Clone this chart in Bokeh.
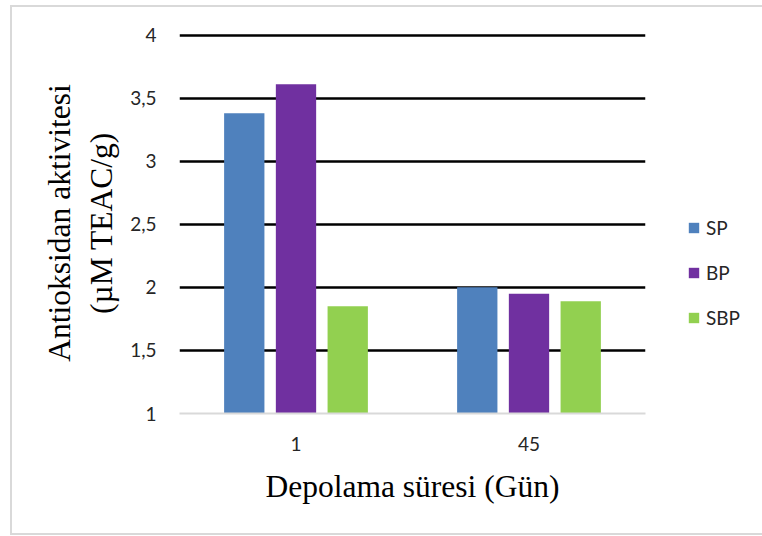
from bokeh.plotting import figure
from bokeh.models import Range1d, FactorRange, Legend, LegendItem, FixedTicker, ColumnDataSource
from bokeh.transform import dodge
from bokeh.embed import file_html
from bokeh.resources import INLINE

days = ["1", "45"]
series = ["SP", "BP", "SBP"]
sp = [3.38, 2.00]
bp = [3.61, 1.95]
sbp = [1.85, 1.89]
colors = ["#4F81BD", "#7030A0", "#92D050"]
y_ticks = [1, 1.5, 2, 2.5, 3, 3.5, 4]
y_labels = ["1", "1,5", "2", "2,5", "3", "3,5", "4"]
x_title = "Depolama süresi (Gün)"
y_title = "Antioksidan aktivitesi\n(µM TEAC/g)"

source = ColumnDataSource(dict(days=days, SP=sp, BP=bp, SBP=sbp))

p = figure(x_range=FactorRange(factors=days, range_padding=0),
           y_range=Range1d(1, 4.02),
           frame_width=466, frame_height=381,
           min_border_left=167, min_border_right=109,
           min_border_top=25, min_border_bottom=120,
           output_backend="svg", toolbar_location=None)
p.styles = {"border": "2px solid #d9d9d9", "margin": "5px 0 0 10px"}
p.outline_line_color = None
p.background_fill_color = "white"
p.border_fill_color = "white"

offsets = [-0.222, 0.0, 0.222]
items = []
for name, off, col in zip(series, offsets, colors):
    r = p.vbar(x=dodge("days", off, range=p.x_range), top=name, bottom=1,
               width=0.173, source=source, fill_color=col, line_color=None)
    items.append(LegendItem(label=name, renderers=[r]))

# grid
p.xgrid.visible = False
p.ygrid.ticker = FixedTicker(ticks=y_ticks[1:])
p.ygrid.grid_line_color = "black"
p.ygrid.grid_line_width = 2.5

# y axis
p.yaxis.ticker = FixedTicker(ticks=y_ticks)
p.yaxis.major_label_overrides = {t: l for t, l in zip(y_ticks, y_labels)}
p.yaxis.axis_line_color = None
p.yaxis.major_tick_line_color = None
p.yaxis.minor_tick_line_color = None
p.yaxis.major_tick_out = 0
p.yaxis.major_label_standoff = 23
p.yaxis.major_label_text_font = "Lato"
p.yaxis.major_label_text_font_size = "19px"
p.yaxis.major_label_text_color = "#262626"
p.yaxis.axis_label = y_title
p.yaxis.axis_label_text_font = "Liberation Serif"
p.yaxis.axis_label_text_font_size = "31.5px"
p.yaxis.axis_label_text_font_style = "normal"
p.yaxis.axis_label_text_color = "black"
p.yaxis.axis_label_standoff = 8

# x axis
p.xaxis.axis_line_color = "#d9d9d9"
p.xaxis.axis_line_width = 2
p.xaxis.major_tick_line_color = None
p.xaxis.major_tick_out = 0
p.xaxis.major_label_standoff = 23
p.xaxis.major_label_text_font = "Lato"
p.xaxis.major_label_text_font_size = "19px"
p.xaxis.major_label_text_color = "#262626"
p.xaxis.axis_label = x_title
p.xaxis.axis_label_text_font = "Liberation Serif"
p.xaxis.axis_label_text_font_size = "31.5px"
p.xaxis.axis_label_text_font_style = "normal"
p.xaxis.axis_label_text_color = "black"
p.xaxis.axis_label_standoff = 15

legend = Legend(items=items, location=(42, 84), orientation="vertical",
                glyph_width=13, glyph_height=13, label_height=24,
                label_standoff=6, spacing=21, padding=0, margin=0,
                border_line_color=None, background_fill_alpha=0,
                label_text_font="Lato", label_text_font_size="19px",
                label_text_color="#262626")
p.add_layout(legend, "right")

open("out.html", "w").write(file_html(p, INLINE))
